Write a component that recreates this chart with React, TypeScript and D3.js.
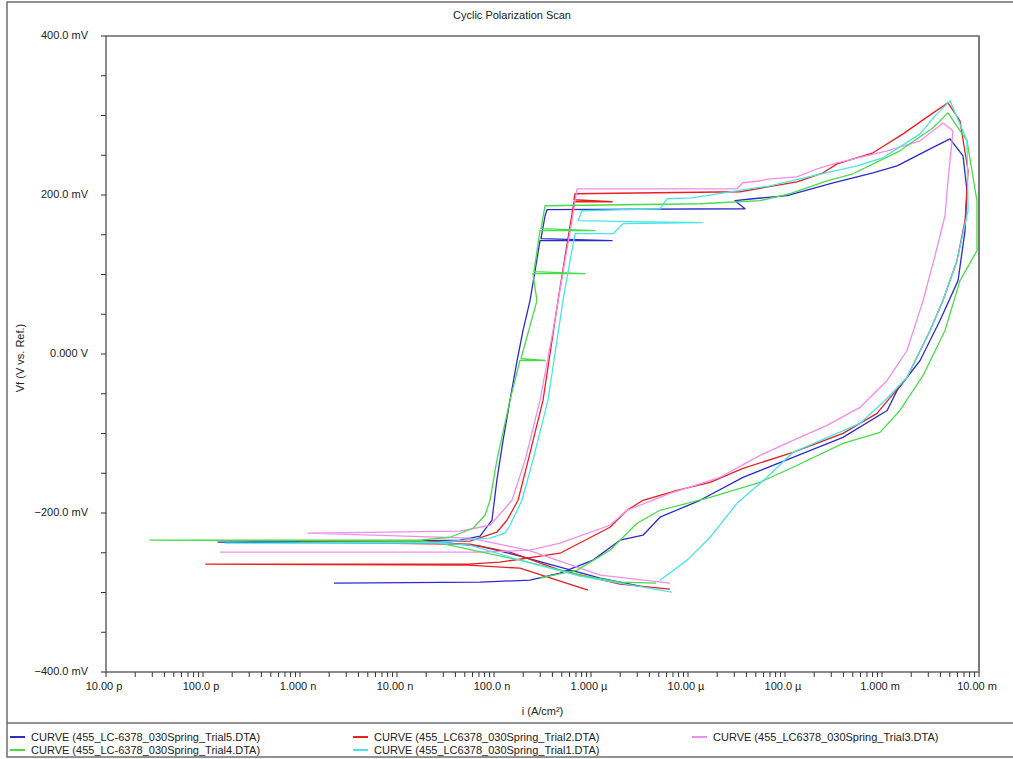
import React, { useEffect, useRef } from "react";
import * as d3 from "d3";

const WIDTH = 1013;
const HEIGHT = 759;
const plot = { left: 106, right: 979, top: 36, bottom: 672 };

const title = "Cyclic Polarization Scan";
const xTitle = "i (A/cm²)";
const yTitle = "Vf (V vs. Ref.)";

const xDomain = [1e-11, 1e-2];
const yDomain = [-400, 400];
const yLabelTicks = [-400, -200, 0, 200, 400];

// [current density (A/cm²), potential (mV)]
const trial5: [number, number][] = [
  [3.2e-6, -292], [1.24e-6, -281.9], [4.79e-7, -268.1], [1.85e-7, -254.3], [7.18e-8, -241.8],
  [3.52e-8, -238], [1.43e-10, -236.7], [1.07e-8, -235.5], [4.46e-8, -234.2], [7.18e-8, -229.2],
  [9.53e-8, -209.1], [1.07e-7, -158.9], [1.24e-7, -108.6], [1.46e-7, -58.4], [1.73e-7, -8.2],
  [1.99e-7, 29.5], [2.35e-7, 67.2], [2.65e-7, 104.9], [2.98e-7, 142.5], [1.65e-6, 142.5],
  [3.05e-7, 145], [3.36e-7, 173.9], [3.52e-7, 181.5], [3.87e-5, 182.7], [3.05e-5, 192.8],
  [4.68e-5, 195.3], [1.05e-4, 199.1], [3.13e-4, 215.4], [8.07e-4, 227.9], [1.43e-3, 236.7],
  [3.13e-3, 258.1], [5.02e-3, 270.6], [6.84e-3, 249.3], [7.52e-3, 205.3], [7.18e-3, 155.1],
  [6.08e-3, 92.3], [3.96e-3, 42.1], [2.47e-3, -8.2], [1.43e-3, -45.8], [1.13e-3, -71],
  [3.96e-4, -104.9], [1.21e-4, -130], [3.69e-5, -155.1], [1.33e-5, -184], [5.14e-6, -205.3],
  [3.44e-6, -227.9], [1.99e-6, -234.2], [1.05e-6, -259.3], [4.79e-7, -275.7], [2.35e-7, -284.5],
  [7.18e-8, -287], [2.24e-9, -288.2],
];

const trial2: [number, number][] = [
  [6.52e-6, -295.8], [1.99e-6, -289.5], [4.79e-7, -271.9], [1.46e-7, -249.3], [5.66e-8, -239.3],
  [1.0e-9, -236.7], [5.66e-8, -235.5], [1.07e-7, -224.2], [1.36e-7, -209.1], [1.77e-7, -184],
  [2.25e-7, -133.8], [3.2e-7, -58.4], [4.57e-7, 67.2], [5.52e-7, 130], [6.68e-7, 191.5],
  [1.65e-6, 191.5], [6.68e-7, 194], [6.84e-7, 201.6], [3.44e-5, 204.1], [1.33e-4, 216.6],
  [2.47e-4, 227.9], [3.44e-4, 239.2], [8.07e-4, 253.1], [1.65e-3, 276.9], [3.36e-3, 303.3],
  [4.79e-3, 315.9], [6.37e-3, 293.2], [7.71e-3, 230.5], [7.18e-3, 167.7], [5.93e-3, 117.4],
  [4.25e-3, 67.2], [3.13e-3, 29.5], [1.81e-3, -29.5], [8.87e-4, -74.7], [3.96e-4, -99.9],
  [1.21e-4, -123.7], [3.69e-5, -143.8], [1.69e-5, -161.4], [7.71e-6, -171.4], [3.44e-6, -184],
  [2.35e-6, -196.6], [1.57e-6, -217.9], [4.79e-7, -250.6], [1.15e-7, -261.9], [5.39e-8, -264.4],
  [1.07e-10, -264.4], [5.39e-8, -265.6], [1.85e-7, -269.4], [9.31e-7, -297],
];

const trial3: [number, number][] = [
  [6.52e-6, -288.2], [1.24e-6, -278.2], [2.25e-7, -246.8], [5.66e-8, -231.7], [1.21e-9, -225.4],
  [4.46e-8, -222.9], [9.1e-8, -215.4], [1.3e-7, -194], [1.53e-7, -184], [2.09e-7, -133.8],
  [2.98e-7, -58.4], [4.06e-7, 29.5], [5.39e-7, 117.4], [6.37e-7, 167.7], [7.18e-7, 207.8],
  [3.2e-5, 207.8], [3.69e-5, 215.4], [5.52e-5, 217.9], [7.0e-5, 220.4], [1.33e-4, 222.9],
  [2.14e-4, 233], [3.44e-4, 240.5], [1.13e-3, 255.6], [2.47e-3, 268.1], [4.25e-3, 290.7],
  [5.39e-3, 280.7], [5.27e-3, 268.1], [4.79e-3, 217.9], [4.46e-3, 173.9], [3.52e-3, 123.7],
  [2.65e-3, 67.2], [1.81e-3, 4.4], [1.13e-3, -33.3], [5.93e-4, -67.2], [2.71e-4, -89.8],
  [1.21e-4, -108.6], [5.52e-5, -127.5], [2.14e-5, -155.1], [6.52e-6, -175.2], [2.35e-6, -196.6],
  [1.57e-6, -215.4], [4.79e-7, -238], [2.35e-7, -246.8], [7.18e-8, -249.3], [1.5e-10, -249.3],
];

const trial4: [number, number][] = [
  [4.68e-6, -288.2], [1.99e-6, -287], [7.71e-7, -278.2], [1.85e-7, -259.3], [2.77e-8, -238],
  [1.73e-8, -235.5], [2.84e-11, -234.2], [1.73e-8, -234.2], [3.52e-8, -230.5], [6.08e-8, -219.2],
  [8.07e-8, -202.8], [9.1e-8, -184], [1.07e-7, -133.8], [1.46e-7, -58.4], [1.85e-7, -8.2],
  [3.36e-7, -8.2], [1.9e-7, -5.7], [2.77e-7, 67.2], [2.52e-7, 101.1], [8.68e-7, 101.1],
  [2.58e-7, 103.6], [2.98e-7, 155.1], [1.1e-6, 155.1], [3.05e-7, 157.6], [3.36e-7, 186.5],
  [1.33e-5, 189], [5.52e-5, 192.8], [1.13e-4, 201.6], [2.71e-4, 217.9], [5.02e-4, 226.7],
  [1.53e-3, 255.6], [3.36e-3, 284.5], [4.79e-3, 303.3], [7.52e-3, 268.1], [9.53e-3, 192.8],
  [9.53e-3, 130], [6.37e-3, 92.3], [4.46e-3, 29.5], [2.65e-3, -27], [1.53e-3, -71],
  [9.53e-4, -98.6], [3.96e-4, -112.4], [1.21e-4, -142.5], [5.52e-5, -161.4], [1.69e-5, -180.2],
  [5.14e-6, -196.6], [2.98e-6, -212.9], [1.57e-6, -246.8], [7.18e-7, -271.9], [2.98e-7, -281.9],
];

const trial1: [number, number][] = [
  [6.84e-6, -299.5], [1.99e-6, -288.2], [7.71e-7, -279.4], [1.85e-7, -259.3], [5.66e-8, -240.5],
  [2.77e-8, -238], [1.69e-10, -238], [2.77e-8, -236.7], [9.1e-8, -231.7], [1.3e-7, -225.4],
  [1.46e-7, -215.4], [1.94e-7, -184], [2.52e-7, -133.8], [3.6e-7, -58.4], [5.14e-7, 67.2],
  [6.08e-7, 117.4], [6.84e-7, 151.3], [1.69e-6, 151.3], [2.14e-6, 163.9], [1.39e-5, 165.2],
  [2.52e-6, 166.4], [7.35e-7, 167.7], [8.07e-7, 180.2], [5.14e-6, 182.7], [6.08e-6, 195.3],
  [1.1e-5, 196.5], [7.0e-5, 211.6], [1.94e-4, 224.2], [5.52e-4, 236.7], [1.02e-3, 246.8],
  [2.47e-3, 276.9], [3.52e-3, 299.5], [5.02e-3, 318.4], [7.52e-3, 268.1], [7.71e-3, 180.2],
  [5.93e-3, 117.4], [4.25e-3, 67.2], [3.13e-3, 29.5], [1.81e-3, -29.5], [1.07e-3, -58.4],
  [5.93e-4, -87.3], [1.21e-4, -123.7], [6.52e-5, -155.1], [3.2e-5, -187.8], [1.69e-5, -230.5],
  [9.77e-6, -259.3], [5.14e-6, -284.5],
];

const seriesNames = [
  "CURVE (455_LC-6378_030Spring_Trial5.DTA)",
  "CURVE (455_LC6378_030Spring_Trial2.DTA)",
  "CURVE (455_LC6378_030Spring_Trial3.DTA)",
  "CURVE (455_LC-6378_030Spring_Trial4.DTA)",
  "CURVE (455_LC6378_030Spring_Trial1.DTA)",
];
const seriesColors = ["#2b2bd0", "#e82020", "#f08cf0", "#48dc48", "#48e6e6"];
const seriesData = [trial5, trial2, trial3, trial4, trial1];

const FONT = "'Liberation Sans', Arial, sans-serif";

export default function App() {
  const ref = useRef<SVGSVGElement>(null);

  useEffect(() => {
    const svg = d3.select(ref.current);
    svg.selectAll("*").remove();

    const x = d3.scaleLog().domain(xDomain).range([plot.left, plot.right]);
    const y = d3.scaleLinear().domain(yDomain).range([plot.bottom, plot.top]);

    svg.append("rect").attr("width", WIDTH).attr("height", HEIGHT).attr("fill", "#fff");

    // outer frame + legend separator
    svg.append("rect")
      .attr("x", 7).attr("y", 2).attr("width", WIDTH + 10).attr("height", 755)
      .attr("fill", "none").attr("stroke", "#6e6e6e").attr("stroke-width", 1.5);
    svg.append("line")
      .attr("x1", 7).attr("x2", WIDTH).attr("y1", 723).attr("y2", 723)
      .attr("stroke", "#6e6e6e").attr("stroke-width", 1.5);

    svg.append("text")
      .attr("x", 512).attr("y", 19).attr("text-anchor", "middle")
      .attr("font-family", FONT).attr("font-size", 11).attr("fill", "#222")
      .text(title);

    // y ticks every 50 mV, labels every 200
    const yTicks = d3.range(yDomain[0], yDomain[1] + 1, 50);
    svg.append("g").selectAll("line").data(yTicks).join("line")
      .attr("x1", plot.left - 5).attr("x2", plot.left)
      .attr("y1", (d) => y(d)).attr("y2", (d) => y(d))
      .attr("stroke", "#333");
    svg.append("g").selectAll("text").data(yLabelTicks).join("text")
      .attr("x", 88).attr("y", (d) => y(d) + 3)
      .attr("text-anchor", "end")
      .attr("font-family", FONT).attr("font-size", 11).attr("fill", "#222")
      .text((d) => (d === 0 ? "0.000 V" : `${d3.format(".1f")(d)} mV`));

    // x ticks: log decades with 2..9 minors
    const xTicks: number[] = [];
    for (let e = -11; e < -2; e++) {
      for (let k = 1; k <= 9; k++) xTicks.push(k * Math.pow(10, e));
    }
    xTicks.push(1e-2);
    svg.append("g").selectAll("line").data(xTicks).join("line")
      .attr("x1", (d) => x(d)).attr("x2", (d) => x(d))
      .attr("y1", plot.bottom).attr("y2", plot.bottom + 5)
      .attr("stroke", "#333");
    const decades = d3.range(-11, -1).map((e) => Math.pow(10, e));
    const fmt = d3.format(".4s");
    svg.append("g").selectAll("text").data(decades).join("text")
      .attr("x", (d) => x(d) - 2).attr("y", 690)
      .attr("text-anchor", "middle")
      .attr("font-family", FONT).attr("font-size", 11).attr("fill", "#222")
      .text((d) => fmt(d).replace(/([a-zµ])$/, " $1"));

    svg.append("text")
      .attr("x", (plot.left + plot.right) / 2).attr("y", 715)
      .attr("text-anchor", "middle")
      .attr("font-family", FONT).attr("font-size", 11).attr("fill", "#222")
      .text(xTitle);
    svg.append("text")
      .attr("transform", `translate(24, 358) rotate(-90)`)
      .attr("text-anchor", "middle")
      .attr("font-family", FONT).attr("font-size", 11).attr("fill", "#222")
      .text(yTitle);

    // curves
    const line = d3.line<[number, number]>()
      .x((d) => x(d[0]))
      .y((d) => y(d[1]));
    svg.append("g").selectAll("path").data(seriesData).join("path")
      .attr("d", (d) => line(d))
      .attr("fill", "none")
      .attr("stroke", (_, i) => seriesColors[i])
      .attr("stroke-width", 1.3)
      .attr("stroke-linejoin", "round");

    // plot box
    svg.append("rect")
      .attr("x", plot.left).attr("y", plot.top)
      .attr("width", plot.right - plot.left).attr("height", plot.bottom - plot.top)
      .attr("fill", "none").attr("stroke", "#404040").attr("stroke-width", 1.2);
    svg.append("line")
      .attr("x1", plot.right).attr("x2", plot.right)
      .attr("y1", plot.top).attr("y2", plot.bottom)
      .attr("stroke", "#7a7a7a").attr("stroke-width", 2);

    // legend
    const colX = [10, 353, 692];
    const rowY = [737, 750];
    const items = svg.append("g").selectAll("g").data(seriesNames).join("g")
      .attr("transform", (_, i) => `translate(${colX[i % 3]}, ${rowY[Math.floor(i / 3)]})`);
    items.append("line")
      .attr("x1", 0).attr("x2", 15).attr("y1", 0).attr("y2", 0)
      .attr("stroke", (_, i) => seriesColors[i]).attr("stroke-width", 2);
    items.append("text")
      .attr("x", 21).attr("y", 4)
      .attr("font-family", FONT).attr("font-size", 11).attr("fill", "#222")
      .text((d) => d);
  }, []);

  return (
    <svg
      ref={ref}
      width={WIDTH}
      height={HEIGHT}
      style={{ position: "absolute", left: 0, top: 0, display: "block" }}
    />
  );
}
